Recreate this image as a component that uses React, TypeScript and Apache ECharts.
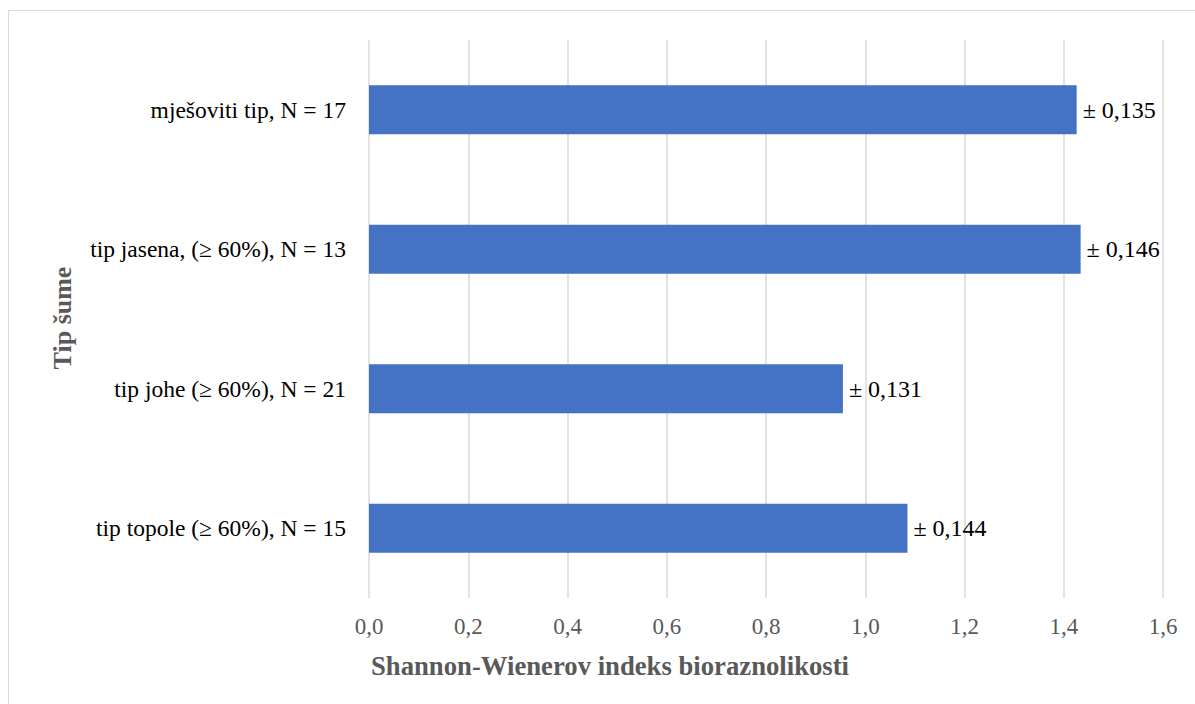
import React, { useEffect, useRef } from "react";
import * as echarts from "echarts";

const categories = [
  "mješoviti tip, N = 17",
  "tip jasena, (≥ 60%), N = 13",
  "tip johe (≥ 60%), N = 21",
  "tip topole (≥ 60%), N = 15",
];
const values = [1.426, 1.434, 0.955, 1.085];
const errors = ["0,135", "0,146", "0,131", "0,144"];
const xTicks = [0, 0.2, 0.4, 0.6, 0.8, 1.0, 1.2, 1.4, 1.6];
const xTitle = "Shannon-Wienerov indeks bioraznolikosti";
const yTitle = "Tip šume";

const FONT = "Liberation Serif";

export default function App() {
  const ref = useRef<HTMLDivElement>(null);
  useEffect(() => {
    if (!ref.current) return;
    const chart = echarts.init(ref.current, null, { renderer: "svg" });
    chart.setOption({
      animation: false,
      backgroundColor: "#ffffff",
      grid: { left: 369, right: 32, top: 40, bottom: 106, containLabel: false },
      xAxis: {
        type: "value",
        min: xTicks[0],
        max: xTicks[xTicks.length - 1],
        interval: 0.2,
        axisLine: { show: false },
        axisTick: { show: false },
        splitLine: { show: true, lineStyle: { color: "#d9d9d9", width: 1.5 } },
        axisLabel: {
          fontFamily: FONT,
          fontSize: 23,
          color: "#595959",
          margin: 17,
          formatter: (v: number) => v.toFixed(1).replace(".", ","),
        },
      },
      yAxis: {
        type: "category",
        data: categories,
        inverse: true,
        axisLine: { show: false },
        axisTick: { show: false },
        axisLabel: {
          fontFamily: FONT,
          fontSize: 23.5,
          color: "#000000",
          margin: 23,
        },
      },
      series: [
        {
          type: "bar",
          data: values,
          barWidth: 49,
          itemStyle: { color: "#4472c4" },
          label: {
            show: true,
            position: "right",
            distance: 6,
            fontFamily: FONT,
            fontSize: 24,
            color: "#000000",
            formatter: (p: any) => "± " + errors[p.dataIndex],
          },
        },
      ],
      graphic: [
        {
          type: "rect",
          shape: { x: 8.5, y: 10.5, width: 1200, height: 720 },
          style: { fill: "none", stroke: "#d9d9d9", lineWidth: 1 },
          silent: true,
        },
        {
          type: "text",
          x: 371,
          y: 666,
          style: {
            text: xTitle,
            fontFamily: FONT,
            fontSize: 26.7,
            fontWeight: "bold",
            fill: "#595959",
            align: "left",
            verticalAlign: "middle",
          },
        },
        {
          type: "text",
          x: 62,
          y: 318,
          rotation: Math.PI / 2,
          style: {
            text: yTitle,
            fontFamily: FONT,
            fontSize: 26,
            fontWeight: "bold",
            fill: "#595959",
            align: "center",
            verticalAlign: "middle",
          },
        },
      ],
    });
    return () => chart.dispose();
  }, []);
  return (
    <div
      ref={ref}
      style={{ position: "absolute", left: 0, top: 0, width: 1195, height: 704 }}
    />
  );
}
